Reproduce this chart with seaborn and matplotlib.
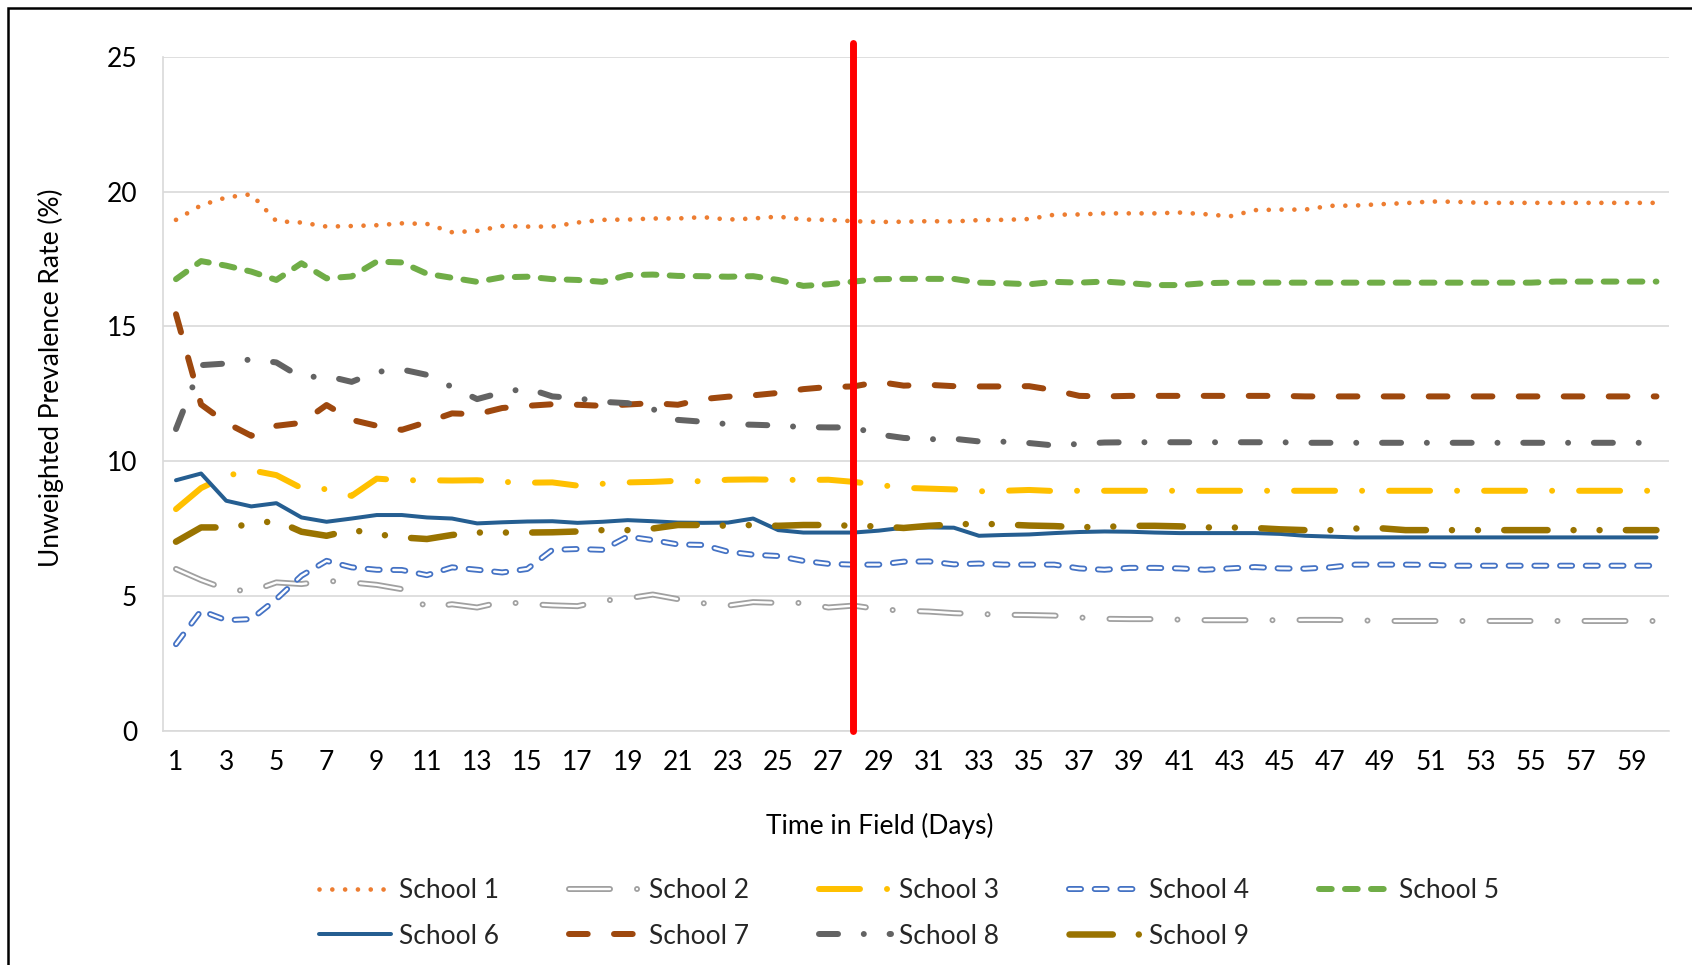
import matplotlib
matplotlib.use("Agg")
import matplotlib.pyplot as plt
import matplotlib.patheffects as pe
from matplotlib.patches import Rectangle
import seaborn as sns

# values (prevalence %, days 1..60)
days = list(range(1, 61))
school_names = ["School 1", "School 2", "School 3", "School 4", "School 5",
                "School 6", "School 7", "School 8", "School 9"]
cutoff_day = 28

school1 = [18.95, 19.49, 19.78, 19.9, 18.9, 18.85, 18.7, 18.72, 18.75, 18.82,
           18.8, 18.49, 18.54, 18.72, 18.7, 18.7, 18.85, 18.95, 18.96, 19.0,
           19.0, 19.05, 18.96, 19.0, 19.07, 18.96, 18.95, 18.9, 18.87, 18.88,
           18.9, 18.89, 18.94, 18.95, 18.98, 19.14, 19.15, 19.19, 19.19, 19.19,
           19.22, 19.16, 19.08, 19.31, 19.33, 19.33, 19.47, 19.48, 19.53, 19.57,
           19.63, 19.62, 19.58, 19.58, 19.58, 19.58, 19.58, 19.58, 19.58, 19.58]
school2 = [6.0, 5.59, 5.25, 5.17, 5.5, 5.44, 5.56, 5.5, 5.41, 5.25,
           4.57, 4.69, 4.57, 4.78, 4.7, 4.65, 4.62, 4.82, 4.91, 5.05,
           4.88, 4.73, 4.64, 4.77, 4.74, 4.74, 4.57, 4.64, 4.51, 4.45,
           4.42, 4.36, 4.33, 4.3, 4.29, 4.27, 4.2, 4.15, 4.14, 4.14,
           4.12, 4.1, 4.1, 4.1, 4.1, 4.11, 4.11, 4.1, 4.07, 4.07,
           4.07, 4.07, 4.07, 4.07, 4.07, 4.07, 4.07, 4.07, 4.07, 4.07]
school3 = [8.22, 9.0, 9.45, 9.66, 9.48, 9.0, 8.96, 8.71, 9.35, 9.29,
           9.29, 9.28, 9.29, 9.23, 9.2, 9.21, 9.09, 9.16, 9.21, 9.23,
           9.27, 9.25, 9.31, 9.32, 9.31, 9.3, 9.31, 9.23, 9.12, 9.01,
           8.98, 8.95, 8.88, 8.9, 8.93, 8.89, 8.9, 8.9, 8.9, 8.9,
           8.9, 8.9, 8.9, 8.9, 8.9, 8.9, 8.9, 8.9, 8.9, 8.9,
           8.9, 8.9, 8.9, 8.9, 8.9, 8.9, 8.9, 8.9, 8.9, 8.9]
school4 = [3.21, 4.45, 4.1, 4.14, 4.88, 5.75, 6.3, 6.06, 5.97, 5.96,
           5.77, 6.06, 5.97, 5.87, 6.0, 6.71, 6.74, 6.71, 7.2, 7.07,
           6.91, 6.89, 6.64, 6.53, 6.48, 6.3, 6.19, 6.16, 6.16, 6.27,
           6.28, 6.17, 6.2, 6.16, 6.16, 6.16, 6.02, 5.97, 6.04, 6.04,
           6.02, 5.97, 6.02, 6.07, 6.02, 6.01, 6.06, 6.16, 6.16, 6.16,
           6.15, 6.12, 6.12, 6.12, 6.12, 6.12, 6.12, 6.12, 6.12, 6.12]
school5 = [16.75, 17.42, 17.25, 17.03, 16.72, 17.34, 16.78, 16.85, 17.4, 17.37,
           16.95, 16.8, 16.65, 16.82, 16.84, 16.75, 16.72, 16.65, 16.9, 16.92,
           16.87, 16.86, 16.84, 16.86, 16.72, 16.5, 16.56, 16.66, 16.75, 16.76,
           16.76, 16.76, 16.62, 16.6, 16.56, 16.65, 16.62, 16.66, 16.6, 16.53,
           16.53, 16.6, 16.62, 16.62, 16.62, 16.62, 16.62, 16.62, 16.62, 16.62,
           16.62, 16.62, 16.62, 16.62, 16.62, 16.66, 16.66, 16.66, 16.66, 16.66]
school6 = [9.29, 9.54, 8.53, 8.32, 8.44, 7.91, 7.75, 7.87, 8.0, 8.0,
           7.91, 7.87, 7.69, 7.73, 7.76, 7.77, 7.71, 7.75, 7.81, 7.77,
           7.72, 7.71, 7.72, 7.87, 7.44, 7.35, 7.35, 7.35, 7.42, 7.53,
           7.54, 7.53, 7.23, 7.26, 7.28, 7.33, 7.37, 7.39, 7.38, 7.35,
           7.33, 7.33, 7.33, 7.33, 7.3, 7.23, 7.2, 7.17, 7.17, 7.17,
           7.17, 7.17, 7.17, 7.17, 7.17, 7.17, 7.17, 7.17, 7.17, 7.17]
school7 = [15.45, 12.1, 11.42, 10.94, 11.31, 11.42, 12.08, 11.53, 11.31, 11.16,
           11.45, 11.77, 11.74, 11.97, 12.05, 12.11, 12.09, 12.05, 12.1, 12.15,
           12.09, 12.3, 12.39, 12.44, 12.53, 12.67, 12.75, 12.77, 12.94, 12.8,
           12.83, 12.78, 12.77, 12.77, 12.78, 12.63, 12.42, 12.4, 12.42, 12.42,
           12.42, 12.42, 12.42, 12.42, 12.42, 12.4, 12.4, 12.4, 12.4, 12.4,
           12.4, 12.4, 12.4, 12.4, 12.4, 12.4, 12.4, 12.4, 12.4, 12.4]
school8 = [11.19, 13.56, 13.62, 13.78, 13.66, 13.1, 13.16, 12.94, 13.31, 13.4,
           13.2, 12.75, 12.3, 12.55, 12.7, 12.4, 12.33, 12.2, 12.15, 11.93,
           11.53, 11.46, 11.37, 11.35, 11.32, 11.26, 11.25, 11.25, 10.99, 10.86,
           10.81, 10.83, 10.73, 10.72, 10.67, 10.58, 10.64, 10.69, 10.7, 10.7,
           10.7, 10.7, 10.7, 10.7, 10.7, 10.68, 10.68, 10.68, 10.68, 10.68,
           10.68, 10.68, 10.68, 10.68, 10.68, 10.68, 10.68, 10.68, 10.68, 10.68]
school9 = [7.01, 7.54, 7.54, 7.66, 7.79, 7.38, 7.23, 7.45, 7.29, 7.17,
           7.11, 7.26, 7.35, 7.35, 7.35, 7.36, 7.39, 7.44, 7.44, 7.5,
           7.63, 7.63, 7.6, 7.63, 7.6, 7.63, 7.63, 7.6, 7.58, 7.52,
           7.6, 7.65, 7.68, 7.65, 7.61, 7.59, 7.55, 7.56, 7.6, 7.6,
           7.58, 7.54, 7.54, 7.52, 7.47, 7.44, 7.44, 7.5, 7.51, 7.44,
           7.44, 7.44, 7.44, 7.44, 7.44, 7.44, 7.44, 7.44, 7.44, 7.44]

series = [school1, school2, school3, school4, school5,
          school6, school7, school8, school9]

PX = 0.72  # points per pixel at dpi 100

# color, line width px, dash pattern px (None = solid), hollow inner width px
styles = [
    ("#ED7D31", 4.7, [0.01, 12.8], None),
    ("#A0A0A0", 6.0, [41, 27, 0.01, 27], 2.4),
    ("#FFC000", 6.0, [41, 27, 0.01, 27], None),
    ("#4472C4", 6.0, [12, 13.7], 2.4),
    ("#70AD47", 6.0, [12.7, 13.3], None),
    ("#255E91", 4.0, None, None),
    ("#9E480E", 6.0, [18.7, 26.3], None),
    ("#636363", 6.0, [19, 25.8, 0.01, 25.8], None),
    ("#997300", 6.5, [43.3, 26, 0.01, 26, 0.01, 26.3], None),
]

sns.set_style("white")
plt.rcParams["font.family"] = ["Lato", "DejaVu Sans"]
plt.rcParams["lines.scale_dashes"] = False

fig = plt.figure(figsize=(16.92, 9.65), dpi=100)
ax = fig.add_axes([0.0966, 0.2428, 0.8898, 0.6984])

for name, vals, (color, lw, dash, inner) in zip(school_names, series, styles):
    ls = "-" if dash is None else (0, [d * PX for d in dash])
    kws = dict(linestyle=ls, dash_capstyle="round", solid_capstyle="round",
               label=name)
    if inner is None:
        sns.lineplot(x=days, y=vals, ax=ax, color=color, linewidth=lw * PX, **kws)
    else:
        sns.lineplot(x=days, y=vals, ax=ax, color="white", linewidth=inner * PX,
                     path_effects=[pe.Stroke(linewidth=lw * PX, foreground=color),
                                   pe.Normal()], **kws)

ax.axvline(cutoff_day, ymin=0, ymax=1.02, color="#FF0000", linewidth=5,
           clip_on=False, zorder=10)

ax.set_xlim(0.5, 60.5)
ax.set_ylim(0, 25)
ax.set_xticks(days[::2])
ax.set_yticks([0, 5, 10, 15, 20, 25])
ax.tick_params(axis="both", length=0, labelsize=19, labelcolor="black")
ax.tick_params(axis="x", pad=14)
ax.tick_params(axis="y", pad=19)
ax.yaxis.grid(True, color="#D9D9D9", linewidth=1.2)
ax.xaxis.grid(False)
for side in ["top", "right"]:
    ax.spines[side].set_visible(False)
for side in ["left", "bottom"]:
    ax.spines[side].set_color("#D9D9D9")
    ax.spines[side].set_linewidth(1.2)

ax.set_xlabel("Time in Field (Days)", fontsize=19, color="black")
ax.set_ylabel("Unweighted Prevalence Rate (%)", fontsize=19, color="black")
ax.xaxis.set_label_coords(0.476, -0.1414)
ax.xaxis.label.set_verticalalignment("center")
ax.yaxis.set_label_coords(-0.0747, 0.524)
ax.yaxis.label.set_verticalalignment("center")

handles, labels = ax.get_legend_handles_labels()
if ax.get_legend() is not None:
    ax.get_legend().remove()
# reorder so the legend fills row by row (5 on top, 4 below)
order = [0, 5, 1, 6, 2, 7, 3, 8, 4]
fig.legend([handles[i] for i in order], [labels[i] for i in order],
           loc="center", bbox_to_anchor=(0.5372, 0.0535), ncol=5,
           frameon=False, fontsize=19, handlelength=2.75, handletextpad=0.3,
           columnspacing=2.63, labelspacing=0.78)

# black frame around the picture (left and top edges visible)
fig.add_artist(Rectangle((8 / 1692, -0.1), 2, 1.1 - 8 / 965,
                         transform=fig.transFigure, fill=False,
                         edgecolor="black", linewidth=1.8))

fig.savefig("out.png", dpi=100)
